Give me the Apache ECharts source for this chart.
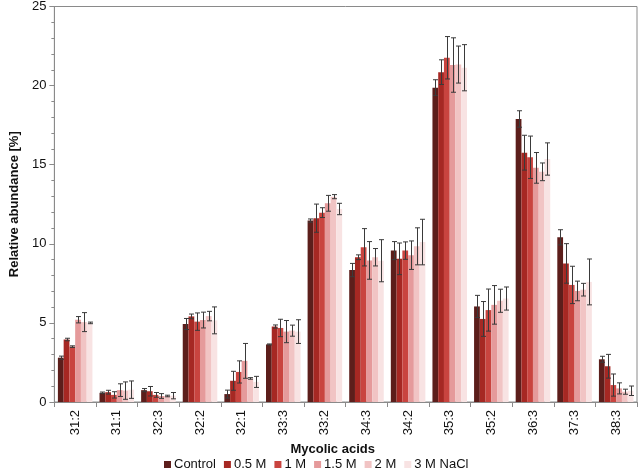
<!DOCTYPE html>
<html>
<head>
<meta charset="utf-8">
<script src="https://cdn.jsdelivr.net/npm/echarts@6/dist/echarts.min.js"></script>
<style>
  html, body { margin: 0; padding: 0; background: #fff; }
  #chart { width: 638px; height: 473px; }
</style>
</head>
<body>
<div id="chart"></div>
<script>
// categories on the x axis
var categories = ['31:2', '31:1', '32:3', '32:2', '32:1', '33:3', '33:2', '34:3', '34:2', '35:3', '35:2', '36:3', '37:3', '38:3'];
var seriesNames = ['Control', '0.5 M', '1 M', '1.5 M', '2 M', '3 M NaCl'];
var yTicks = [0, 5, 10, 15, 20, 25];

// mean values [%]
var control = [2.8, 0.58, 0.75, 4.93, 0.5, 3.64, 11.47, 8.34, 9.57, 19.87, 6.04, 17.89, 10.41, 2.7];
var m05 = [3.95, 0.62, 0.68, 5.41, 1.34, 4.77, 11.62, 9.15, 9.05, 20.85, 5.25, 15.76, 8.76, 2.26];
var m1 = [3.5, 0.45, 0.45, 5.08, 1.9, 4.68, 11.97, 9.78, 9.57, 21.76, 5.81, 15.47, 7.4, 1.07];
var m15 = [5.2, 0.75, 0.38, 5.18, 2.6, 4.45, 12.56, 8.95, 9.28, 21.3, 6.14, 14.8, 7.02, 0.86];
var m2 = [5.05, 0.72, 0.38, 5.43, 1.49, 4.51, 12.98, 9.15, 9.84, 21.33, 6.4, 14.55, 7.1, 0.65];
var m3 = [5.0, 0.78, 0.4, 5.16, 1.27, 4.45, 12.2, 8.93, 10.11, 21.13, 6.54, 15.36, 7.59, 0.71];

// standard deviations
var controlErr = [0.1, 0.05, 0.1, 0.35, 0.25, 0.03, 0.1, 0.42, 0.57, 0.5, 0.7, 0.52, 0.48, 0.19];
var m05Err = [0.08, 0.12, 0.3, 0.15, 0.6, 0.1, 0.89, 0.15, 1.0, 0.78, 1.1, 1.1, 1.25, 0.75];
var m1Err = [0.05, 0.2, 0.15, 0.55, 0.7, 0.55, 0.31, 1.18, 0.55, 1.34, 1.33, 1.34, 1.18, 0.7];
var m15Err = [0.2, 0.4, 0.15, 0.5, 1.1, 0.7, 0.5, 1.19, 0.9, 1.72, 1.22, 0.97, 0.62, 0.35];
var m2Err = [0.6, 0.55, 0.05, 0.3, 0.05, 0.35, 0.13, 0.55, 1.17, 1.17, 0.73, 0.56, 0.4, 0.16];
var m3Err = [0.05, 0.55, 0.2, 0.85, 0.35, 0.75, 0.36, 1.33, 1.44, 1.46, 0.73, 1.02, 1.45, 0.3];

var means = [control, m05, m1, m15, m2, m3];
var errs = [controlErr, m05Err, m1Err, m15Err, m2Err, m3Err];
var colors = ['#5c1e1b', '#a62823', '#c9443f', '#e59a9b', '#f1c4c4', '#f8e3e3'];

var FONT = 'Liberation Sans, Arial, sans-serif';
var CAT_GAP = 0.17;

function errRenderer(idx) {
    return function (params, api) {
        var band = api.size([1, 0])[0];
        var area = band * (1 - CAT_GAP);
        var bw = area / seriesNames.length;
        var off = -area / 2 + (idx + 0.5) * bw;
        var lo = api.coord([api.value(0), api.value(1)]);
        var hi = api.coord([api.value(0), api.value(2)]);
        var x = Math.round(lo[0] + off) + 0.5;
        var cap = 2.5;
        var st = { stroke: '#3a3a3a', lineWidth: 1 };
        return {
            type: 'group',
            children: [
                { type: 'line', shape: { x1: x, y1: lo[1], x2: x, y2: hi[1] }, style: st },
                { type: 'line', shape: { x1: x - cap, y1: hi[1], x2: x + cap, y2: hi[1] }, style: st },
                { type: 'line', shape: { x1: x - cap, y1: lo[1], x2: x + cap, y2: lo[1] }, style: st }
            ]
        };
    };
}

var series = [];
seriesNames.forEach(function (name, i) {
    series.push({
        name: name,
        type: 'bar',
        data: means[i],
        barGap: '0%',
        barCategoryGap: (CAT_GAP * 100) + '%',
        itemStyle: { color: colors[i] },
        z: 2
    });
});
seriesNames.forEach(function (name, i) {
    series.push({
        type: 'custom',
        renderItem: errRenderer(i),
        data: means[i].map(function (v, k) {
            return [k, Math.max(0, v - errs[i][k]), v + errs[i][k]];
        }),
        encode: { x: 0, y: [1, 2] },
        z: 5,
        silent: true
    });
});

var option = {
    animation: false,
    textStyle: { fontFamily: FONT },
    grid: {
        left: 39, right: 1, top: 3, bottom: 71,
        show: true, borderColor: '#8a8a8a', borderWidth: 1
    },
    legend: {
        data: seriesNames,
        left: 159,
        top: 453,
        itemWidth: 7,
        itemHeight: 7,
        itemGap: 8,
        icon: 'rect',
        textStyle: { fontSize: 13, color: '#111', fontFamily: FONT, padding: [0, 0, 0, -2] }
    },
    xAxis: {
        type: 'category',
        data: categories,
        name: 'Mycolic acids',
        nameLocation: 'middle',
        nameGap: 39,
        nameTextStyle: { fontSize: 13, fontWeight: 'bold', color: '#111', padding: [0, 26, 0, 0] },
        axisLine: { lineStyle: { color: '#8a8a8a' } },
        axisTick: { show: true, length: 5, lineStyle: { color: '#8a8a8a' } },
        axisLabel: { rotate: 90, fontSize: 13, color: '#111', margin: 8 }
    },
    yAxis: {
        type: 'value',
        min: yTicks[0],
        max: yTicks[yTicks.length - 1],
        interval: 5,
        name: 'Relative abundance [%]',
        nameLocation: 'middle',
        nameGap: 33,
        nameTextStyle: { fontSize: 13, fontWeight: 'bold', color: '#111' },
        axisLine: { show: true, lineStyle: { color: '#8a8a8a' } },
        axisTick: { show: true, length: 5, lineStyle: { color: '#8a8a8a' } },
        minorTick: { show: true, splitNumber: 5, length: 3, lineStyle: { color: '#8a8a8a' } },
        splitLine: { show: false },
        axisLabel: { fontSize: 13, color: '#111', margin: 8 }
    },
    series: series
};

var myChart = echarts.init(document.getElementById('chart'));
myChart.setOption(option);
</script>
</body>
</html>
